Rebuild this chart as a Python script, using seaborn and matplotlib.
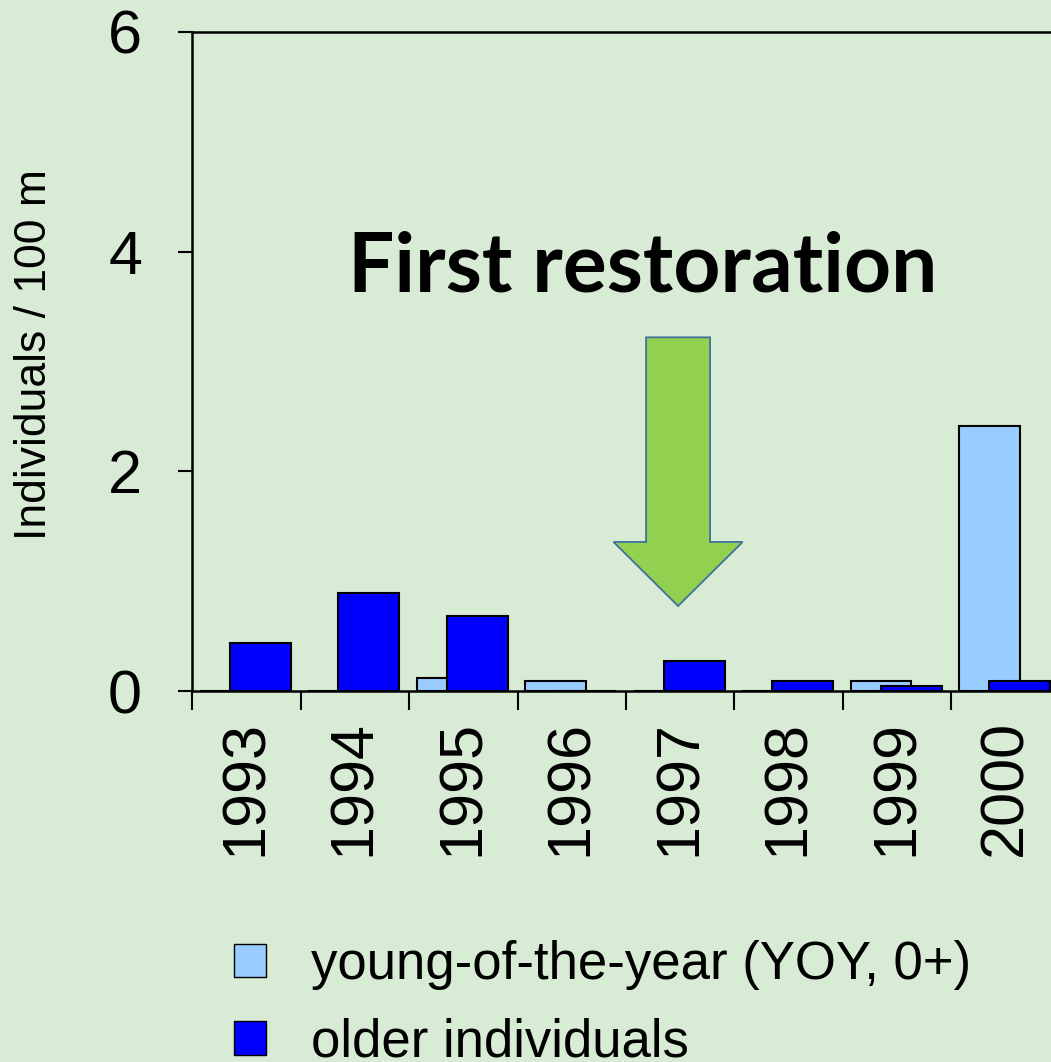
import matplotlib
matplotlib.use("Agg")
import matplotlib.pyplot as plt
from matplotlib.patches import Patch, FancyArrow
import seaborn as sns
import numpy as np

# ---- data ----
years = ["1993", "1994", "1995", "1996", "1997", "1998", "1999", "2000"]
yoy = [0.0, 0.0, 0.12, 0.09, 0.0, 0.0, 0.09, 2.41]
older = [0.44, 0.89, 0.68, 0.0, 0.27, 0.09, 0.05, 0.09]
y_ticks = [0, 2, 4, 6]
series_labels = ["young-of-the-year (YOY, 0+)", "older individuals"]
annotation_text = "First restoration"
y_label = "Individuals / 100 m"

# ---- style ----
BG = "#d7ebd5"
C_YOY = "#99ccff"
C_OLD = "#0000ff"

sns.set_style("white")
plt.rcParams["font.family"] = ["Liberation Sans", "DejaVu Sans"]
plt.rcParams.update({"text.color": "black", "axes.labelcolor": "black",
                     "xtick.color": "black", "ytick.color": "black"})

fig = plt.figure(figsize=(10.51, 10.62), dpi=100)
fig.patch.set_facecolor(BG)
ax = fig.add_axes([192 / 1051, 371 / 1062, 868 / 1051, 659 / 1062])
ax.set_facecolor(BG)

W = 0.56
sns.barplot(x=years, y=yoy, color=C_YOY, saturation=1, edgecolor="black",
            linewidth=1.5, width=W, ax=ax, zorder=2)
n0 = len(ax.patches)
for p in ax.patches[:n0]:
    p.set_x(p.get_x() - 0.15)
sns.barplot(x=years, y=older, color=C_OLD, saturation=1, edgecolor="black",
            linewidth=1.5, width=W, ax=ax, zorder=3)
for p in ax.patches[n0:]:
    p.set_x(p.get_x() + 0.13)

ax.set_xlim(-0.5, 7.5)
ax.set_ylim(0, 6)
ax.set_yticks(y_ticks)
ax.set_yticklabels([str(v) for v in y_ticks], fontsize=44)
ax.tick_params(axis="y", which="major", left=True, direction="out", length=10,
               width=1.5, pad=26, colors="black")

ax.set_xticks(range(len(years)))
ax.set_xticklabels(years, rotation=90, fontsize=44)
ax.tick_params(axis="x", which="major", bottom=True, length=0, pad=21, colors="black")
ax.set_xticks(np.arange(-0.5, len(years)), minor=True)
ax.tick_params(axis="x", which="minor", bottom=True, direction="out", length=13.5,
               width=1.5, colors="black")
ax.set_xlabel("")

for s in ["left", "bottom", "top"]:
    ax.spines[s].set_visible(True)
    ax.spines[s].set_color("black")
    ax.spines[s].set_linewidth(1.8)
ax.spines["right"].set_visible(False)

ax.set_ylabel(y_label, fontsize=32, color="black")
ax.yaxis.set_label_coords(-0.158, 0.51)

# annotation text and arrow
ax.text(3.65, 3.64, annotation_text, ha="center", va="baseline", color="black",
        fontsize=59, fontweight="bold", family=["Lato", "DejaVu Sans"], zorder=5)
arrow = FancyArrow(3.98, 3.22, 0, 0.774 - 3.22, width=0.59, head_width=1.19,
                   head_length=1.357 - 0.774, length_includes_head=True,
                   facecolor="#92d050", edgecolor="#41719c", linewidth=1.3, zorder=4)
ax.add_patch(arrow)

handles = [Patch(facecolor=C_YOY, edgecolor="black", linewidth=1.0),
           Patch(facecolor=C_OLD, edgecolor="black", linewidth=1.0)]
fig.legend(handles=handles, labels=series_labels, loc="upper left",
           bbox_to_anchor=(234 / 1051, (1062 - 940) / 1062), frameon=False,
           fontsize=38, handlelength=0.6, handleheight=0.6, handletextpad=0.85,
           labelspacing=0.52, borderpad=0, borderaxespad=0)

fig.savefig("out.png", dpi=100, facecolor=BG)
